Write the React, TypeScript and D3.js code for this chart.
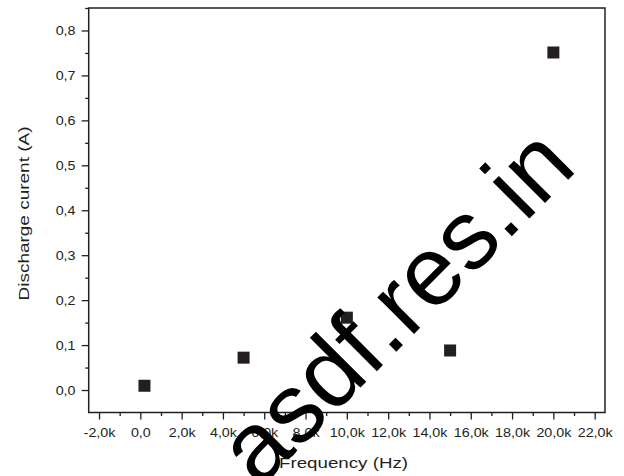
import React, { useEffect, useRef } from 'react';
import * as d3 from 'd3';

// values
const frequency = [200, 5000, 10000, 15000, 20000];
const current = [0.0095, 0.072, 0.161, 0.088, 0.751];

const xTicks = [-2000, 0, 2000, 4000, 6000, 8000, 10000, 12000, 14000, 16000, 18000, 20000, 22000];
const yTicks = [0, 0.1, 0.2, 0.3, 0.4, 0.5, 0.6, 0.7, 0.8];

const xTitle = 'Frequency (Hz)';
const yTitle = 'Discharge curent (A)';
const watermark = 'asdf.res.in';

const App: React.FC = () => {
  const svgRef = useRef<SVGSVGElement>(null);

  useEffect(() => {
    if (!svgRef.current) return;

    const width = 624;
    const height = 476;
    const left = 88.7, right = 605, top = 8, bottom = 412.5;
    const ink = '#231f20';
    const font = '"Liberation Sans", Arial, sans-serif';

    const svg = d3.select(svgRef.current);
    svg.selectAll('*').remove();

    svg.append('rect').attr('width', width).attr('height', height).attr('fill', 'white');

    const x = d3.scaleLinear().domain([-2500, 22500]).range([left, right]);
    const y = d3.scaleLinear().domain([-0.05, 0.85]).range([bottom, top]);

    const fmtX = (v: number) => (v === 0 ? '0,0' : (v / 1000).toFixed(1).replace('.', ',') + 'k');
    const fmtY = (v: number) => v.toFixed(1).replace('.', ',');

    // minor ticks halfway between majors
    const xMinor = xTicks.slice(0, -1).map((v, i) => (v + xTicks[i + 1]) / 2);
    const yMinor = yTicks.slice(0, -1).map((v, i) => (v + yTicks[i + 1]) / 2).concat([0.85]);

    const gx = svg.append('g').attr('transform', `translate(0,${bottom})`);
    gx.call(d3.axisBottom(x).tickValues(xMinor).tickSize(3.5).tickFormat(() => ''));
    gx.select('.domain').remove();
    const gx2 = svg.append('g').attr('transform', `translate(0,${bottom})`);
    gx2.call(d3.axisBottom(x).tickValues(xTicks).tickSize(7).tickPadding(8).tickFormat(d => fmtX(d as number)));
    gx2.select('.domain').remove();

    const gy = svg.append('g').attr('transform', `translate(${left},0)`);
    gy.call(d3.axisLeft(y).tickValues(yMinor).tickSize(3.5).tickFormat(() => ''));
    gy.select('.domain').remove();
    const gy2 = svg.append('g').attr('transform', `translate(${left},0)`);
    gy2.call(d3.axisLeft(y).tickValues(yTicks).tickSize(7).tickPadding(5).tickFormat(d => fmtY(d as number)));
    gy2.select('.domain').remove();

    svg.selectAll('.tick line').attr('stroke', ink).attr('stroke-width', 1.3);
    svg.selectAll('.tick text')
      .attr('fill', ink)
      .attr('transform', 'scale(1.1,1)')
      .style('font-family', font)
      .style('font-size', '13px');

    // frame
    svg.append('rect')
      .attr('x', left).attr('y', top)
      .attr('width', right - left).attr('height', bottom - top)
      .attr('fill', 'none').attr('stroke', ink).attr('stroke-width', 1.5);

    // points
    const size = 12;
    svg.append('g').selectAll('rect')
      .data(frequency.map((f, i) => [f, current[i]]))
      .join('rect')
      .attr('x', d => x(d[0]) - size / 2)
      .attr('y', d => y(d[1]) - size / 2)
      .attr('width', size).attr('height', size)
      .attr('fill', ink);

    // axis titles
    svg.append('text')
      .attr('x', 279).attr('y', 468)
      .attr('textLength', 129)
      .attr('lengthAdjust', 'spacingAndGlyphs')
      .attr('fill', ink)
      .style('font-family', font).style('font-size', '15px')
      .text(xTitle);

    svg.append('text')
      .attr('transform', 'translate(29,300.5) rotate(-90)')
      .attr('textLength', 174)
      .attr('lengthAdjust', 'spacingAndGlyphs')
      .attr('fill', ink)
      .style('font-family', font).style('font-size', '15px')
      .text(yTitle);

    // watermark over everything
    svg.append('text')
      .attr('transform', 'translate(259,489) rotate(-45)')
      .attr('fill', 'black')
      .style('font-family', font).style('font-size', '98px')
      .text(watermark);
  }, []);

  return (
    <div style={{ position: 'absolute', left: 0, top: 0 }}>
      <svg ref={svgRef} width={624} height={476} style={{ display: 'block' }} />
    </div>
  );
};

export default App;
